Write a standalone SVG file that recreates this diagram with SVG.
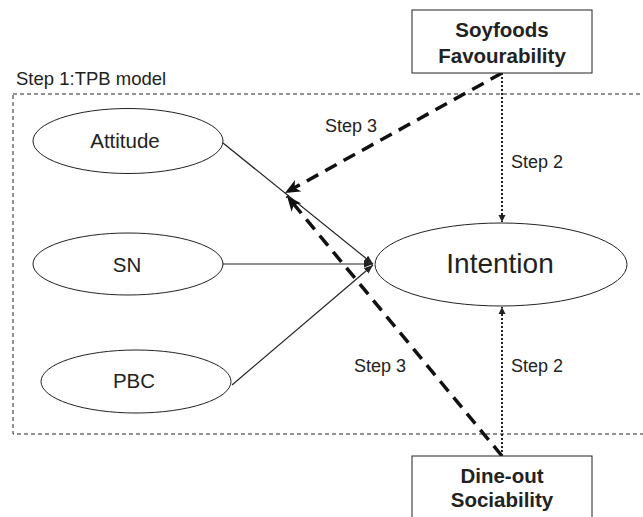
<svg xmlns="http://www.w3.org/2000/svg" width="643" height="517" viewBox="0 0 643 517">
<style>
  .node { fill: #fff; stroke: #222; stroke-width: 1; }
  .lbl { font-family: "Liberation Sans", Arial, sans-serif; font-size: 20.5px; fill: #222; text-anchor: middle; }
  .big { font-size: 28px; }
  .bold { font-family: "Liberation Sans", Arial, sans-serif; font-size: 20.5px; font-weight: bold; fill: #222; text-anchor: middle; }
  .step { font-family: "Liberation Sans", Arial, sans-serif; font-size: 18px; fill: #222; }
  .solid { stroke: #222; stroke-width: 1.2; fill: none; }
  .dash { stroke: #111; stroke-width: 3.5; stroke-dasharray: 13 8; fill: none; }
  .dot { stroke: #222; stroke-width: 2; stroke-dasharray: 2 2; fill: none; }
</style>
<defs>
  <marker id="aSolid" markerUnits="userSpaceOnUse" markerWidth="10" markerHeight="10" refX="9" refY="5" orient="auto">
    <path d="M0,1.5 L9,5 L0,8.5 z" fill="#222"/>
  </marker>
  <marker id="aDash" markerUnits="userSpaceOnUse" markerWidth="16" markerHeight="14" refX="15" refY="7" orient="auto">
    <path d="M15,7 L0,0.5 L4,7 L0,13.5 z" fill="#111"/>
  </marker>
  <marker id="aDot" markerUnits="userSpaceOnUse" markerWidth="8" markerHeight="8" refX="7" refY="4" orient="auto">
    <path d="M0,0.5 L7,4 L0,7.5 z" fill="#222"/>
  </marker>
</defs>

<g id="tpb-frame">
  <rect x="13" y="94" width="660" height="340" fill="none" stroke="#222" stroke-width="1" stroke-dasharray="4 3"/>
  <text class="step" x="16" y="85" style="font-size:18.5px">Step 1:TPB model</text>
</g>

<g id="connectors">
  <line class="solid" x1="223" y1="143" x2="373" y2="264" marker-end="url(#aSolid)"/>
  <line class="solid" x1="223" y1="264" x2="373" y2="264" marker-end="url(#aSolid)"/>
  <line class="solid" x1="232" y1="385" x2="373" y2="265" marker-end="url(#aSolid)"/>
  <line class="dash" x1="502" y1="73" x2="285" y2="193" marker-end="url(#aDash)"/>
  <line class="dash" x1="502" y1="456" x2="287" y2="196" marker-end="url(#aDash)"/>
  <line class="dot" x1="502" y1="73" x2="502" y2="222" marker-end="url(#aDot)"/>
  <line class="dot" x1="502" y1="456" x2="502" y2="307" marker-end="url(#aDot)"/>
  <text class="step" x="325" y="132">Step 3</text>
  <text class="step" x="511" y="168">Step 2</text>
  <text class="step" x="354" y="372">Step 3</text>
  <text class="step" x="511" y="372">Step 2</text>
</g>

<g id="attitude">
  <ellipse class="node" cx="128" cy="141" rx="95" ry="32.5"/>
  <text class="lbl" x="125" y="148">Attitude</text>
</g>
<g id="sn">
  <ellipse class="node" cx="128" cy="264" rx="95" ry="31"/>
  <text class="lbl" x="127" y="272">SN</text>
</g>
<g id="pbc">
  <ellipse class="node" cx="136" cy="381.5" rx="95" ry="31.5"/>
  <text class="lbl" x="134" y="388">PBC</text>
</g>
<g id="intention">
  <ellipse class="node" cx="501" cy="264.5" rx="126" ry="41.5"/>
  <text class="lbl big" x="500" y="273">Intention</text>
</g>
<g id="soyfoods">
  <rect class="node" x="412" y="10" width="180" height="63"/>
  <text class="bold" x="502" y="37">Soyfoods</text>
  <text class="bold" x="502" y="63">Favourability</text>
</g>
<g id="dineout">
  <rect class="node" x="412" y="456" width="180" height="80"/>
  <text class="bold" x="502" y="483">Dine-out</text>
  <text class="bold" x="502" y="507">Sociability</text>
</g>
</svg>
